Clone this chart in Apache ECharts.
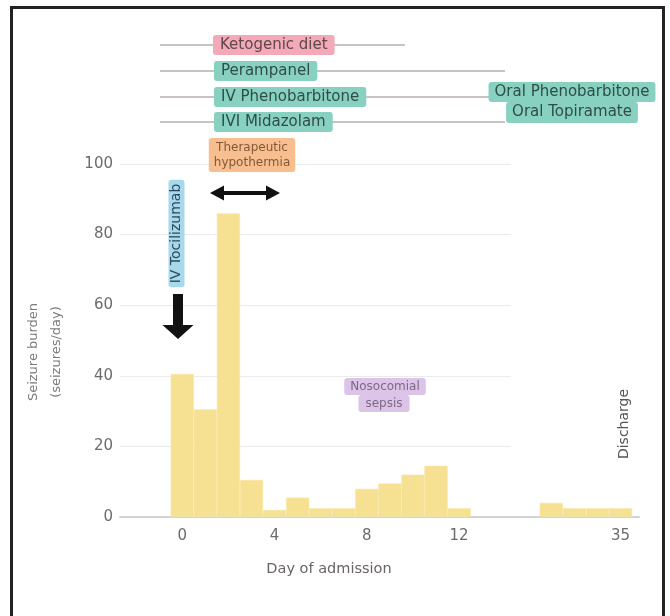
<!DOCTYPE html>
<html>
<head>
<meta charset="utf-8">
<script src="https://cdn.jsdelivr.net/npm/echarts@6/dist/echarts.min.js"></script>
<style>
  html, body { margin: 0; padding: 0; background: #fff; }
  #main { width: 670px; height: 616px; }
</style>
</head>
<body>
<div id="main"></div>
<script>
// days on the x axis (the gap between day 12 and day 32 is squeezed into 3 empty slots)
var days = ["0", "1", "2", "3", "4", "5", "6", "7", "8", "9", "10", "11", "12", "", "", "", "32", "33", "34", "35"];
var seizureBurden = [40.5, 30.5, 86, 10.5, 2, 5.5, 2.5, 2.5, 8, 9.5, 12, 14.5, 2.5, null, null, null, 4, 2.5, 2.5, 2.5];
var shownDays = ["0", "4", "8", "12", "35"];
var yTicks = [0, 20, 40, 60, 80, 100];
var gridValues = [20, 40, 60, 80, 100];

var FONT = "DejaVu Sans";
var chart = echarts.init(document.getElementById("main"));

// little coloured label boxes
function tag(text, x, y, bg, color, size, extra) {
  var el = {
    type: "text",
    x: x,
    y: y,
    z: 10,
    style: {
      text: text,
      fontFamily: FONT,
      fontSize: size,
      lineHeight: size + 1,
      fill: color,
      backgroundColor: bg,
      borderRadius: 3,
      padding: [2, 7, 2, 7],
      align: "left",
      verticalAlign: "top"
    }
  };
  if (extra) {
    for (var k in extra) {
      if (k === "style") {
        for (var s in extra.style) el.style[s] = extra.style[s];
      } else {
        el[k] = extra[k];
      }
    }
  }
  return el;
}

function hline(x1, x2, y) {
  return {
    type: "line",
    z: 1,
    shape: { x1: x1, y1: y, x2: x2, y2: y },
    style: { stroke: "#c9c2c2", lineWidth: 2 }
  };
}

var teal = "#88d1c0", tealText = "#2f4d47";

option = {
  animation: false,
  grid: { left: 120, right: 31, top: 164, bottom: 99 },
  xAxis: {
    type: "value",
    min: -2.7,
    max: 19.8,
    splitLine: { show: false },
    axisTick: { show: false },
    axisLine: { show: true, lineStyle: { color: "#d2d2d8", width: 2 } },
    axisLabel: {
      customValues: shownDays.map(function(d) { return days.indexOf(d); }),
      formatter: function(v) { return days[Math.round(v)]; },
      color: "#6b6b6b",
      fontFamily: FONT,
      fontSize: 15,
      margin: 12
    }
  },
  yAxis: {
    type: "value",
    min: 0,
    max: 100,
    interval: 20,
    splitLine: { show: false },
    axisLine: { show: false },
    axisTick: { show: false },
    axisLabel: { color: "#6b6b6b", fontFamily: FONT, fontSize: 15, margin: 7 }
  },
  series: [
    {
      type: "bar",
      z: 3,
      barWidth: 23.2,
      itemStyle: { color: "#f6e091", borderColor: "#f8e7a8", borderWidth: 0.6 },
      data: seizureBurden.map(function(v, i) { return [i, v]; }),
      markLine: {
        z: 1,
        silent: true,
        symbol: ["none", "none"],
        label: { show: false },
        lineStyle: { color: "#ebebeb", type: "solid", width: 1 },
        data: gridValues.map(function(v) {
          return [{ coord: [-2.7, v] }, { coord: [14.25, v] }];
        })
      }
    }
  ],
  graphic: [
    // outer frame
    {
      type: "rect",
      z: 0,
      shape: { x: 11.5, y: 7.5, width: 652, height: 620 },
      style: { fill: null, stroke: "#222", lineWidth: 3 }
    },
    // treatment lines
    hline(160, 405, 45),
    hline(160, 505, 71),
    hline(160, 495, 97),
    hline(160, 505, 122),
    tag("Ketogenic diet", 213, 35, "#f3a9b8", "#5e484d", 15),
    tag("Perampanel", 214, 61, teal, tealText, 15),
    tag("IV Phenobarbitone", 214, 87, teal, tealText, 15),
    tag("IVI Midazolam", 214, 112, teal, tealText, 15),
    tag("Oral Topiramate", 572, 102, teal, tealText, 15, { style: { align: "center", padding: [2, 6, 3, 6] } }),
    tag("Oral Phenobarbitone", 572, 82, teal, tealText, 15, { style: { align: "center", padding: [2, 6, 2, 6] } }),
    tag("Therapeutic\nhypothermia", 252, 138, "#f7bf8f", "#85573a", 12, { style: { align: "center", lineHeight: 15, padding: [2, 5, 2, 5] } }),
    tag("sepsis", 384, 395, "#dcc4e8", "#7b6a84", 12, { style: { align: "center", lineHeight: 15, padding: [1, 7, 1, 7] } }),
    tag("Nosocomial", 385, 378, "#dcc4e8", "#7b6a84", 12, { style: { align: "center", lineHeight: 15, padding: [1, 6, 1, 6] } }),
    tag("IV Tocilizumab", 176.5, 233.5, "#a8d8ec", "#2c4a5b", 14, {
      rotation: Math.PI / 2,
      style: { align: "center", verticalAlign: "middle", lineHeight: 14, padding: [1, 4, 1, 4] }
    }),
    // double arrow for hypothermia period
    {
      type: "polygon",
      z: 10,
      shape: {
        points: [[210, 193], [224, 185.5], [224, 191], [266, 191], [266, 185.5], [280, 193],
                 [266, 200.5], [266, 195], [224, 195], [224, 200.5]]
      },
      style: { fill: "#111" }
    },
    // down arrow for tocilizumab
    {
      type: "polygon",
      z: 10,
      shape: {
        points: [[173, 294], [183, 294], [183, 325], [193.5, 325], [178, 339], [162.5, 325], [173, 325]]
      },
      style: { fill: "#111" }
    },
    {
      type: "text",
      x: 624,
      y: 424,
      rotation: Math.PI / 2,
      z: 10,
      style: { text: "Discharge", fontFamily: FONT, fontSize: 14, fill: "#555", align: "center", verticalAlign: "middle" }
    },
    // axis titles
    {
      type: "text",
      x: 45,
      y: 352,
      rotation: Math.PI / 2,
      z: 10,
      style: {
        text: "Seizure burden\n(seizures/day)",
        fontFamily: FONT,
        fontSize: 13,
        lineHeight: 23,
        fill: "#7a7a7a",
        align: "center",
        verticalAlign: "middle"
      }
    },
    {
      type: "text",
      x: 329,
      y: 569,
      z: 10,
      style: { text: "Day of admission", fontFamily: FONT, fontSize: 14.5, fill: "#6b6363", align: "center", verticalAlign: "middle" }
    }
  ]
};

chart.setOption(option);
</script>
</body>
</html>
